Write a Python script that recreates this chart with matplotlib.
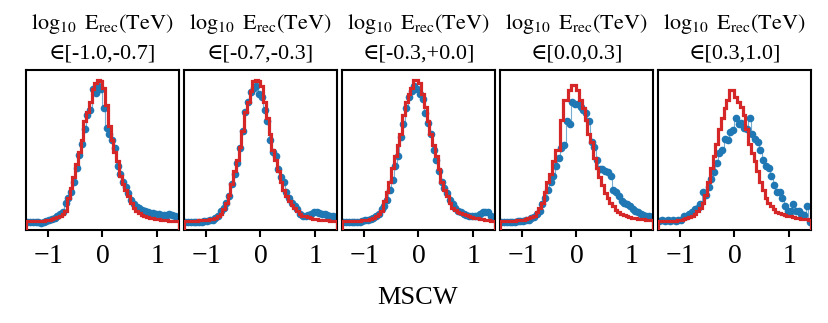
import numpy as np
import matplotlib
matplotlib.use("Agg")
import matplotlib.pyplot as plt

# energy bins shown in the panel titles
bin_labels = ["[-1.0,-0.7]", "[-0.7,-0.3]", "[-0.3,+0.0]", "[0.0,0.3]", "[0.3,1.0]"]

# MSCW binning (56 bins of 0.05 between -1.4 and 1.4)
edges = np.round(np.arange(-1.4, 1.4001, 0.05), 3)
centers = 0.5 * (edges[:-1] + edges[1:])

# simulated (red step histograms), normalised to axis height
sim_1 = [.055, .055, .055, .056, .056, .057, .058, .060, .063, .067,
         .072, .080, .090, .100, .120, .200, .260, .330, .410, .490,
         .560, .680, .740, .800, .880, .920, .940, .930, .890, .780,
         .650, .560, .490, .430, .340, .290, .250, .210, .170, .140,
         .120, .105, .095, .088, .082, .077, .072, .069, .066, .064,
         .062, .060, .059, .058, .057, .057]
sim_2 = [.058, .058, .058, .058, .059, .060, .060, .062, .064, .066,
         .068, .075, .085, .100, .130, .170, .220, .290, .370, .440,
         .520, .620, .740, .800, .870, .930, .935, .930, .900, .800,
         .700, .600, .500, .440, .370, .300, .250, .210, .180, .155,
         .135, .120, .100, .090, .085, .080, .075, .071, .068, .065,
         .063, .061, .060, .059, .058, .058]
sim_3 = [.055, .055, .055, .056, .056, .057, .058, .060, .062, .065,
         .070, .078, .088, .100, .120, .180, .240, .300, .390, .460,
         .530, .600, .720, .800, .850, .890, .940, .940, .920, .850,
         .770, .680, .600, .530, .460, .380, .300, .250, .210, .170,
         .140, .125, .115, .105, .098, .092, .087, .082, .078, .074,
         .070, .066, .063, .060, .058, .057]
sim_4 = [.058, .058, .058, .058, .058, .059, .060, .062, .064, .067,
         .072, .080, .090, .110, .140, .170, .240, .300, .350, .430,
         .500, .500, .690, .810, .810, .875, .905, .905, .875, .810,
         .760, .690, .600, .550, .450, .390, .330, .280, .230, .200,
         .170, .150, .125, .110, .100, .093, .087, .082, .077, .073,
         .070, .068, .066, .064, .062, .060]
sim_5 = [.055, .055, .055, .056, .056, .057, .058, .060, .062, .066,
         .072, .080, .090, .100, .120, .140, .170, .220, .300, .390,
         .460, .540, .630, .700, .760, .810, .875, .875, .830, .800,
         .770, .720, .630, .540, .480, .430, .370, .300, .250, .200,
         .170, .150, .130, .110, .105, .100, .095, .090, .085, .080,
         .075, .072, .070, .068, .066, .065]

# data (blue points)
obs_1 = [.048, .047, .050, .048, .050, .046, .052, .055, .062, .070,
         .075, .090, .100, .115, .170, .200, .240, .300, .390, .470,
         .540, .630, .720, .750, .880, .855, .900, .880, .760, .640,
         .600, .560, .510, .400, .350, .300, .270, .230, .190, .160,
         .145, .135, .125, .118, .112, .108, .104, .100, .098, .094,
         .092, .096, .100, .094, .088, .082]
obs_2 = [.050, .050, .050, .049, .050, .050, .052, .054, .056, .060,
         .065, .075, .085, .120, .140, .170, .210, .290, .350, .420,
         .510, .620, .740, .800, .860, .890, .900, .850, .830, .750,
         .680, .560, .490, .460, .380, .330, .300, .240, .200, .170,
         .150, .130, .100, .090, .090, .095, .100, .110, .110, .105,
         .100, .100, .095, .090, .085, .080]
obs_3 = [.048, .050, .049, .050, .052, .050, .053, .056, .060, .063,
         .068, .075, .085, .100, .130, .150, .190, .250, .310, .400,
         .460, .580, .660, .760, .830, .870, .900, .880, .850, .820,
         .730, .670, .600, .500, .440, .370, .300, .260, .230, .190,
         .160, .140, .120, .110, .100, .095, .090, .088, .085, .090,
         .100, .110, .115, .110, .090, .075]
obs_4 = [.050, .050, .051, .050, .052, .052, .054, .055, .058, .060,
         .065, .072, .080, .100, .120, .160, .200, .250, .300, .340,
         .400, .450, .510, .530, .680, .660, .800, .790, .790, .770,
         .750, .730, .680, .550, .520, .440, .380, .380, .370, .360,
         .340, .250, .240, .210, .180, .170, .160, .150, .130, .120,
         .110, .100, .095, .090, .085, .080]
obs_5 = [.055, .060, .058, .060, .058, .060, .058, .060, .065, .085,
         .090, .100, .110, .130, .140, .160, .240, .220, .270, .320,
         .360, .420, .480, .500, .570, .560, .610, .625, .700, .660,
         .670, .640, .630, .700, .600, .570, .550, .500, .440, .400,
         .390, .340, .280, .240, .240, .200, .150, .120, .120, .160,
         .120, .120, .100, .095, .150, .050]

sims = [sim_1, sim_2, sim_3, sim_4, sim_5]
obss = [obs_1, obs_2, obs_3, obs_4, obs_5]

plt.rcParams['font.family'] = ['Liberation Serif', 'DejaVu Serif']
plt.rcParams['mathtext.fontset'] = 'stix'
plt.rcParams['axes.formatter.use_mathtext'] = True

fig = plt.figure(figsize=(8.29, 3.23), dpi=100)
W, H = 829, 323
left0, pitch, width = 26, 158, 153
top, bottom = 70, 230

for i in range(5):
    ax = fig.add_axes([(left0 + i * pitch) / W, 1 - bottom / H, width / W, (bottom - top) / H])
    ax.plot(centers, obss[i], drawstyle='steps-mid', color='#1f77b4', lw=0.8, alpha=0.6)
    ax.plot(centers, obss[i], 'o', color='#1f77b4', ms=5.5, mew=0)
    ax.stairs(sims[i], edges, color='#d62728', lw=2.3, zorder=3)
    ax.set_xlim(-1.4, 1.4)
    ax.set_ylim(0, 1)
    ax.set_yticks([])
    ax.set_xticks([-1, 0, 1])
    ax.tick_params(axis='x', direction='out', length=5, width=1.5, labelsize=20, pad=5)
    for s in ax.spines.values():
        s.set_linewidth(1.5)
    ax.set_title(r"$\log_{10}\ \mathrm{E}_{\mathrm{rec}}(\mathrm{TeV})$" + "\n" + "\u2208" + bin_labels[i],
                 fontsize=16, pad=8, linespacing=1.6)

fig.text((26 + 810) / 2 / W, 1 - 298 / H, "MSCW", ha='center', va='center', fontsize=19)

fig.savefig("out.png", dpi=100)
